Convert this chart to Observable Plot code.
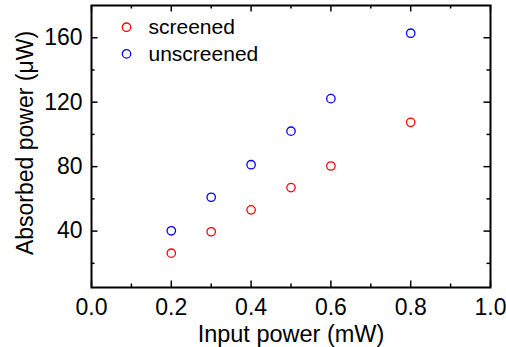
<!DOCTYPE html>
<html><head><meta charset="utf-8">
<script src="https://cdn.jsdelivr.net/npm/d3@7"></script>
<script src="https://cdn.jsdelivr.net/npm/@observablehq/plot@0.6"></script>
<style>body{margin:0;background:#fff}</style>
</head><body><div id="chart"></div>
<script>
const inputPower = [0.2, 0.3, 0.4, 0.5, 0.6, 0.8];
const screened = [26.3, 39.6, 53.2, 67.0, 80.4, 107.5];
const unscreened = [40.2, 61.0, 81.2, 102.0, 122.2, 162.8];
const seriesNames = ["screened", "unscreened"];
const seriesColors = ["red", "blue"];
const xMajor = [0, 0.2, 0.4, 0.6, 0.8, 1.0];
const xMinor = [0.1, 0.3, 0.5, 0.7, 0.9];
const yMajor = [40, 80, 120, 160];
const yMinor = [20, 60, 100, 140];
const xDomain = [0, 1];
const yDomain = [5, 180];

const rows = [];
inputPower.forEach((x, i) => {
  rows.push({x, y: screened[i], s: seriesNames[0]});
  rows.push({x, y: unscreened[i], s: seriesNames[1]});
});

const W = 506, H = 347, mT = 5, mB = 60, mL = 91, mR = 16;
const ph = H - mT - mB, pw = W - mL - mR;
const major = 6.5, minor = 3.5;
const font = "Liberation Sans, Arial, sans-serif";

const legendMarks = seriesNames.flatMap((name, i) => [
  Plot.dot([name], {frameAnchor: "top-left", dx: 35, dy: 21.7 + i * 26.7, stroke: seriesColors[i], r: 4.2, strokeWidth: 1.3, fill: "none"}),
  Plot.text([name], {frameAnchor: "top-left", dx: 57, dy: 21.7 + i * 26.7, text: d => d, textAnchor: "start", lineAnchor: "middle", fontSize: 21, fill: "#000"})
]);

const chart = Plot.plot({
  width: W, height: H,
  marginTop: mT, marginBottom: mB, marginLeft: mL, marginRight: mR,
  style: {fontFamily: font, background: "#fff", color: "#000"},
  x: {domain: xDomain},
  y: {domain: yDomain},
  color: {domain: seriesNames, range: seriesColors},
  marks: [
    Plot.axisX(xMajor, {tickSize: 0, tickPadding: 11, fontSize: 23, tickFormat: d3.format(".1f"), label: null}),
    Plot.axisY(yMajor, {tickSize: 0, tickPadding: 9, fontSize: 23, label: null}),
    Plot.ruleX(xMajor, {x: d => d, insetTop: ph - major, stroke: "#000", strokeWidth: 1.5}),
    Plot.ruleX(xMajor, {x: d => d, insetBottom: ph - major, stroke: "#000", strokeWidth: 1.5}),
    Plot.ruleX(xMinor, {x: d => d, insetTop: ph - minor, stroke: "#000", strokeWidth: 1.5}),
    Plot.ruleX(xMinor, {x: d => d, insetBottom: ph - minor, stroke: "#000", strokeWidth: 1.5}),
    Plot.ruleY(yMajor, {y: d => d, insetRight: pw - major, stroke: "#000", strokeWidth: 1.5}),
    Plot.ruleY(yMajor, {y: d => d, insetLeft: pw - major, stroke: "#000", strokeWidth: 1.5}),
    Plot.ruleY(yMinor, {y: d => d, insetRight: pw - minor, stroke: "#000", strokeWidth: 1.5}),
    Plot.ruleY(yMinor, {y: d => d, insetLeft: pw - minor, stroke: "#000", strokeWidth: 1.5}),
    Plot.frame({stroke: "#000", strokeWidth: 2}),
    Plot.dot(rows, {x: "x", y: "y", stroke: "s", r: 4.2, strokeWidth: 1.3, fill: "none"}),
    ...legendMarks,
    Plot.text(["Input power (mW)"], {frameAnchor: "bottom", dy: 54, textAnchor: "middle", lineAnchor: "bottom", fontSize: 23.5, fill: "#000"}),
    Plot.text(["Absorbed power (\u03bcW)"], {frameAnchor: "left", dx: -66, dy: -3.5, textAnchor: "middle", lineAnchor: "middle", rotate: -90, fontSize: 23, fill: "#000"})
  ]
});
document.getElementById("chart").appendChild(chart);
</script>
</body></html>
